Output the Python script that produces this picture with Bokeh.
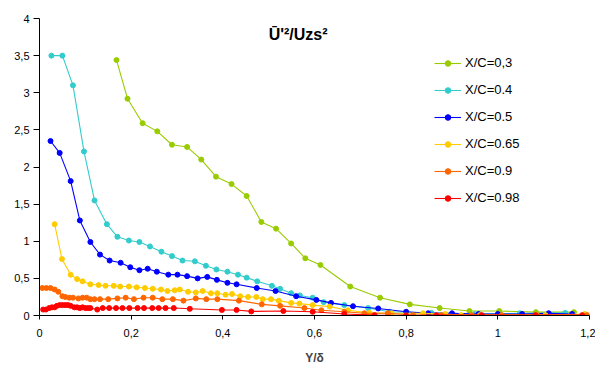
from bokeh.plotting import figure
from bokeh.embed import file_html
from bokeh.resources import INLINE
from bokeh.models import (Range1d, FixedTicker, CustomJSTickFormatter, Legend,
                          LegendItem, Label)

# ---------------- data ----------------
series_names = ["X/C=0,3", "X/C=0.4", "X/C=0.5", "X/C=0.65", "X/C=0.9", "X/C=0.98"]

x_03 = [0.168, 0.192, 0.225, 0.257, 0.289, 0.322, 0.353, 0.385, 0.419, 0.452, 0.484,
        0.516, 0.549, 0.580, 0.613, 0.678, 0.743, 0.808, 0.873, 0.938, 1.003, 1.083, 1.166]
y_03 = [3.44, 2.92, 2.59, 2.48, 2.30, 2.27, 2.10, 1.87, 1.77, 1.61, 1.26,
        1.17, 0.97, 0.77, 0.68, 0.39, 0.24, 0.15, 0.10, 0.06, 0.06, 0.045, 0.045]

x_04 = [0.026, 0.050, 0.073, 0.097, 0.120, 0.147, 0.170, 0.195, 0.218, 0.241, 0.266,
        0.289, 0.312, 0.339, 0.363, 0.386, 0.410, 0.433, 0.452, 0.475, 0.507, 0.525,
        0.549, 0.568, 0.596, 0.620, 0.665, 0.717, 0.764, 0.855, 0.950, 1.048, 1.147]
y_04 = [3.50, 3.50, 3.10, 2.21, 1.55, 1.23, 1.06, 1.01, 0.99, 0.93, 0.86,
        0.80, 0.74, 0.73, 0.67, 0.62, 0.59, 0.55, 0.51, 0.46, 0.40, 0.36,
        0.30, 0.27, 0.24, 0.18, 0.14, 0.10, 0.05, 0.035, 0.02, 0.03, 0.035]

x_05 = [0.024, 0.044, 0.068, 0.088, 0.111, 0.132, 0.153, 0.177, 0.198, 0.218, 0.236,
        0.256, 0.281, 0.301, 0.322, 0.345, 0.366, 0.387, 0.410, 0.430, 0.474, 0.515,
        0.560, 0.604, 0.636, 0.684, 0.739, 0.800, 0.848, 0.900, 0.958, 1.000, 1.053,
        1.111, 1.162]
y_05 = [2.35, 2.19, 1.81, 1.28, 0.99, 0.82, 0.74, 0.71, 0.65, 0.61, 0.63,
        0.59, 0.55, 0.55, 0.53, 0.50, 0.52, 0.48, 0.44, 0.42, 0.37, 0.33,
        0.26, 0.21, 0.17, 0.125, 0.095, 0.05, 0.03, 0.03, 0.02, 0.02, 0.02,
        0.03, 0.02]

x_065 = [0.033, 0.049, 0.068, 0.082, 0.094, 0.111, 0.129, 0.144, 0.162, 0.176, 0.195,
         0.212, 0.230, 0.247, 0.265, 0.279, 0.295, 0.306, 0.324, 0.341, 0.356, 0.374,
         0.388, 0.406, 0.420, 0.438, 0.455, 0.473, 0.487, 0.505, 0.522, 0.549, 0.567,
         0.596, 0.633, 0.673, 0.720, 0.768, 0.837, 0.885, 0.920, 0.961, 1.085, 1.104,
         1.190]
y_065 = [1.23, 0.76, 0.55, 0.49, 0.46, 0.42, 0.41, 0.40, 0.40, 0.39, 0.39,
         0.38, 0.37, 0.36, 0.35, 0.33, 0.34, 0.35, 0.32, 0.31, 0.33, 0.30,
         0.30, 0.28, 0.29, 0.26, 0.25, 0.25, 0.22, 0.22, 0.20, 0.17, 0.16,
         0.14, 0.12, 0.07, 0.035, 0.03, 0.03, 0.02, 0.005, 0.005, 0.005, 0.005,
         0.02]

x_09 = [0.006, 0.015, 0.024, 0.033, 0.041, 0.050, 0.056, 0.065, 0.073, 0.085, 0.094,
        0.103, 0.111, 0.120, 0.132, 0.150, 0.170, 0.188, 0.206, 0.227, 0.247, 0.268,
        0.291, 0.314, 0.341, 0.364, 0.388, 0.435, 0.485, 0.525, 0.578, 0.615, 0.665,
        0.709, 0.760, 0.815, 0.877, 0.943, 1.009, 1.085, 1.195]
y_09 = [0.37, 0.37, 0.37, 0.35, 0.32, 0.26, 0.25, 0.24, 0.24, 0.23, 0.24,
        0.24, 0.22, 0.22, 0.22, 0.22, 0.23, 0.24, 0.22, 0.24, 0.24, 0.22,
        0.22, 0.20, 0.23, 0.22, 0.22, 0.20, 0.15, 0.13, 0.10, 0.07, 0.05,
        0.03, 0.03, 0.005, 0.005, 0.005, 0.005, 0.005, 0.005]

x_098 = [0.008, 0.014, 0.021, 0.027, 0.033, 0.038, 0.044, 0.050, 0.056, 0.062, 0.068,
         0.076, 0.082, 0.088, 0.094, 0.100, 0.106, 0.111, 0.126, 0.138, 0.152, 0.167,
         0.181, 0.196, 0.214, 0.228, 0.246, 0.260, 0.275, 0.293, 0.328, 0.398, 0.430,
         0.462, 0.532, 0.596, 0.665, 0.731, 0.800, 0.866, 0.965, 1.082, 1.184]
y_098 = [0.08, 0.08, 0.10, 0.11, 0.11, 0.13, 0.14, 0.14, 0.14, 0.14, 0.13,
         0.11, 0.11, 0.10, 0.11, 0.10, 0.10, 0.10, 0.08, 0.10, 0.10, 0.10,
         0.10, 0.10, 0.10, 0.10, 0.10, 0.10, 0.10, 0.10, 0.09, 0.075, 0.075,
         0.055, 0.06, 0.05, 0.02, 0.005, 0.0, 0.005, 0.005, 0.005, 0.005]

y_ticks = [0, 0.5, 1, 1.5, 2, 2.5, 3, 3.5, 4]
y_tick_labels = ["0", "0,5", "1", "1,5", "2", "2,5", "3", "3,5", "4"]
x_ticks = [0, 0.2, 0.4, 0.6, 0.8, 1.0, 1.2]
x_tick_labels = ["0", "0,2", "0,4", "0,6", "0,8", "1", "1,2"]

title_text = "Ū'²/Uzs²"
x_label = "Y/δ"

colors = ["#99cc00", "#33cccc", "#0000ff", "#ffcc00", "#ff6600", "#ff0000"]
xs = [x_03, x_04, x_05, x_065, x_09, x_098]
ys = [y_03, y_04, y_05, y_065, y_09, y_098]

FONT = "Liberation Sans"

p = figure(width=595, height=367, output_backend="svg", toolbar_location=None,
           title=None, x_range=Range1d(0, 1.2), y_range=Range1d(0, 4),
           min_border_left=39, min_border_right=6, min_border_top=18,
           min_border_bottom=52)
p.outline_line_color = None
p.grid.visible = False
p.background_fill_color = "white"

fmt_code = ("const i = vals.findIndex(v => Math.abs(v - tick) < 1e-9);"
            "return i >= 0 ? labs[i] : '';")

p.yaxis.ticker = FixedTicker(ticks=y_ticks)
p.yaxis.formatter = CustomJSTickFormatter(args=dict(vals=y_ticks, labs=y_tick_labels), code=fmt_code)
p.xaxis.ticker = FixedTicker(ticks=x_ticks)
p.xaxis.formatter = CustomJSTickFormatter(args=dict(vals=x_ticks, labs=x_tick_labels), code=fmt_code)

for ax in (p.xaxis, p.yaxis):
    ax.axis_line_color = "black"
    ax.axis_line_width = 1
    ax.major_tick_line_color = "black"
    ax.major_tick_in = 0
    ax.minor_tick_line_color = None
    ax.major_label_text_font = FONT
    ax.major_label_text_font_size = "11px"
    ax.major_label_text_color = "black"

p.yaxis.major_tick_out = 6
p.yaxis.major_label_standoff = 4
p.xaxis.major_tick_out = 4
p.xaxis.major_label_standoff = 9
p.xaxis.axis_label = x_label
p.xaxis.axis_label_text_font = FONT
p.xaxis.axis_label_text_font_style = "bold"
p.xaxis.axis_label_text_font_size = "12px"
p.xaxis.axis_label_standoff = 11

items = []
for name, x, y, c in zip(series_names, xs, ys, colors):
    r1 = p.line(x, y, line_color=c, line_width=1.1)
    r2 = p.scatter(x, y, marker="circle", size=5, fill_color=c, line_color=c)
    items.append(LegendItem(label=name, renderers=[r1, r2]))

legend = Legend(items=items, location=(395, 110), orientation="vertical",
                glyph_width=27, glyph_height=14, label_height=14,
                spacing=12, padding=0, margin=0, label_standoff=4,
                border_line_color=None, background_fill_alpha=0,
                label_text_font=FONT, label_text_font_size="13px",
                label_text_color="black")
p.add_layout(legend, "center")

title = Label(x=0.5, y=3.78, text=title_text, text_font=FONT,
              text_font_size="16px", text_font_style="bold", text_color="black",
              text_baseline="alphabetic", text_align="left")
p.add_layout(title)

open("out.html", "w").write(file_html(p, INLINE))
